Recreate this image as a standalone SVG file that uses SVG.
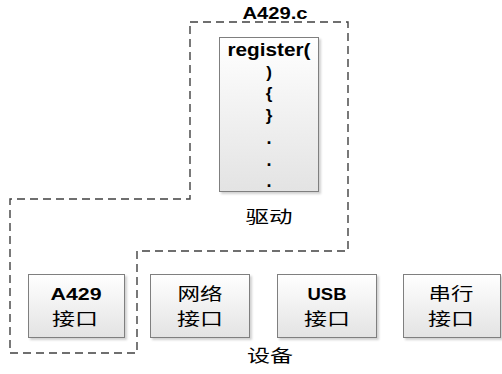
<svg xmlns="http://www.w3.org/2000/svg" width="502" height="374" viewBox="0 0 502 374">
<defs>
<linearGradient id="g" x1="0" y1="0" x2="0" y2="1">
<stop offset="0" stop-color="#ffffff"/>
<stop offset="1" stop-color="#e3e3e3"/>
</linearGradient>
<filter id="sh" x="-10%" y="-10%" width="130%" height="130%">
<feDropShadow dx="2" dy="2" stdDeviation="1" flood-color="#000" flood-opacity="0.18"/>
</filter>
</defs>
<style>
.box{fill:url(#g);stroke:#7f7f7f;stroke-width:1;filter:url(#sh)}
.dash{fill:none;stroke:#404040;stroke-width:1.4;stroke-dasharray:8 5}
.b{font-family:"Liberation Sans",Arial,sans-serif;font-weight:bold;fill:#000;text-anchor:middle}
.c{font-family:"Noto Sans CJK SC","Liberation Sans",sans-serif;fill:#000;text-anchor:middle}
</style>
<g id="connectors">
<path class="dash" d="M190,22 H348 V251 H137 V353 H10 V199 H190 Z"/>
</g>
<text class="b" x="275" y="19" font-size="16" textLength="65" lengthAdjust="spacingAndGlyphs">A429.c</text>
<g id="driver">
<rect class="box" x="219.5" y="37.5" width="99" height="154"/>
<text class="b" x="269" y="56" font-size="17.5" textLength="83" lengthAdjust="spacingAndGlyphs">register(</text>
<text class="b" x="269" y="78" font-size="17">)</text>
<text class="b" x="269" y="99" font-size="17">{</text>
<text class="b" x="269" y="121" font-size="17">}</text>
<text class="b" x="269" y="144" font-size="18">.</text>
<text class="b" x="269" y="166" font-size="18">.</text>
<text class="b" x="269" y="187" font-size="18">.</text>
</g>
<text class="c" x="269" y="223" font-size="17" textLength="47" lengthAdjust="spacingAndGlyphs">驱动</text>
<g id="a429">
<rect class="box" x="28.5" y="274.5" width="96" height="63"/>
<text class="b" x="76" y="300" font-size="16" textLength="51" lengthAdjust="spacingAndGlyphs">A429</text>
<text class="c" x="75" y="325" font-size="17" textLength="46" lengthAdjust="spacingAndGlyphs">接口</text>
</g>
<g id="net">
<rect class="box" x="150.5" y="274.5" width="99" height="63"/>
<text class="c" x="200" y="300" font-size="17" textLength="45" lengthAdjust="spacingAndGlyphs">网络</text>
<text class="c" x="200" y="325" font-size="17" textLength="46" lengthAdjust="spacingAndGlyphs">接口</text>
</g>
<g id="usb">
<rect class="box" x="277.5" y="274.5" width="99" height="63"/>
<text class="b" x="327" y="300" font-size="16" textLength="39" lengthAdjust="spacingAndGlyphs">USB</text>
<text class="c" x="327" y="325" font-size="17" textLength="46" lengthAdjust="spacingAndGlyphs">接口</text>
</g>
<g id="serial">
<rect class="box" x="403.5" y="274.5" width="97" height="63"/>
<text class="c" x="451" y="300" font-size="17" textLength="45" lengthAdjust="spacingAndGlyphs">串行</text>
<text class="c" x="451" y="325" font-size="17" textLength="46" lengthAdjust="spacingAndGlyphs">接口</text>
</g>
<text class="c" x="270" y="362" font-size="17" textLength="46" lengthAdjust="spacingAndGlyphs">设备</text>
</svg>
